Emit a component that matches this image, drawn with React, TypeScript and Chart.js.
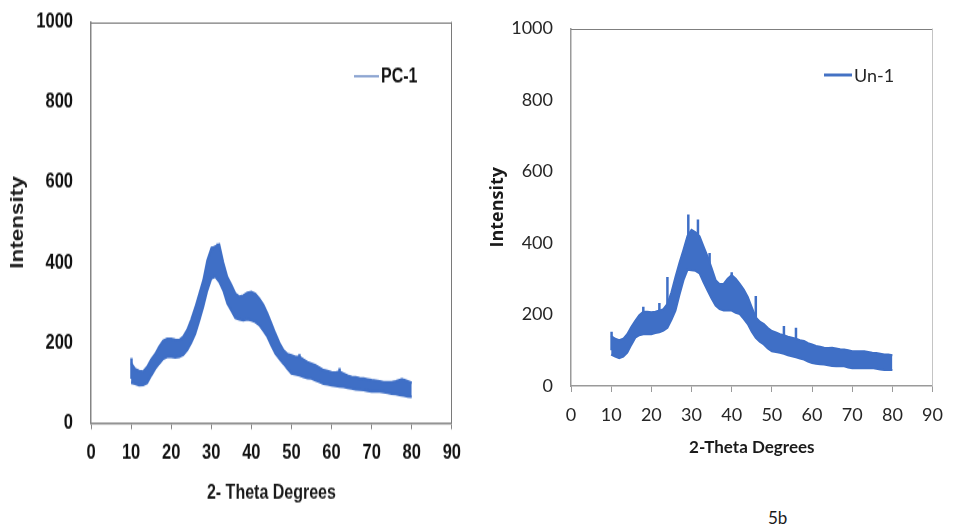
import React, { useEffect, useRef } from "react";
import { Chart, registerables } from "chart.js";

Chart.register(...registerables);

// 2-theta positions (degrees)
const thetaDeg = [
  10, 11, 12, 13, 14, 15, 16, 17, 18, 19, 20, 21, 22, 23, 24, 25, 26, 27, 28, 29,
  30, 31, 32, 33, 34, 35, 36, 37, 38, 39, 40, 41, 42, 43, 44, 45, 46, 47, 48, 49,
  50, 51, 52, 53, 54, 55, 56, 57, 58, 59, 60, 61, 62, 63, 64, 65, 66, 67, 68, 69,
  70, 71, 72, 73, 74, 75, 76, 77, 78, 79, 80,
];

// PC-1: upper and lower edge of the noisy pattern
const pcUpper = [
  150, 135, 130, 128, 140, 158, 172, 190, 205, 210, 210, 208, 207, 215, 232, 258, 288, 322, 356, 405,
  435, 440, 445, 400, 364, 345, 323, 315, 318, 325, 327, 322, 310, 295, 273, 248, 223, 200, 182, 172,
  169, 165, 165, 158, 152, 148, 144, 138, 132, 130, 127, 126, 128, 123, 118, 115, 114, 112, 111, 109,
  107, 106, 104, 102, 102, 102, 104, 107, 108, 104, 100,
];
const pcLower = [
  100, 98, 94, 95, 100, 118, 135, 148, 160, 165, 165, 163, 165, 170, 182, 200, 222, 255, 290, 330,
  360, 365, 352, 330, 298, 280, 262, 258, 256, 258, 256, 252, 244, 230, 215, 193, 173, 160, 148, 135,
  123, 121, 119, 115, 112, 111, 106, 102, 98, 96, 94, 92, 91, 90, 88, 86, 84, 83, 82, 80,
  78, 78, 78, 77, 75, 73, 72, 70, 68, 66, 65,
];
const pcSpikeX = [10.1, 30.2, 31.6, 52, 62, 77.5];
const pcSpikeTop = [162, 440, 448, 172, 137, 112];
const pcSpikeBase = [110, 380, 380, 130, 100, 80];

// Un-1: upper and lower edge of the noisy pattern
const unUpper = [
  140, 132, 128, 132, 145, 165, 182, 198, 208, 208, 206, 208, 211, 215, 230, 262, 305, 345, 381, 420,
  437, 430, 419, 390, 362, 330, 296, 285, 286, 300, 310, 300, 286, 270, 249, 220, 192, 180, 173, 162,
  154, 150, 145, 142, 138, 135, 132, 128, 126, 120, 116, 112, 110, 107, 106, 107, 105, 103, 102, 100,
  97, 97, 97, 97, 95, 93, 92, 90, 88, 88, 86,
];
const unLower = [
  88, 82, 78, 82, 93, 115, 135, 142, 145, 145, 145, 148, 150, 155, 163, 185, 211, 255, 296, 325,
  324, 322, 315, 290, 267, 245, 225, 215, 211, 212, 211, 205, 201, 188, 173, 152, 135, 124, 116, 105,
  97, 95, 93, 90, 86, 83, 80, 77, 74, 68, 64, 62, 61, 60, 58, 56, 55, 55, 55, 52,
  50, 50, 50, 50, 50, 50, 48, 46, 45, 45, 45,
];
const unSpikeX = [10.1, 18, 22, 24, 29.2, 31.6, 34.5, 40, 46, 53, 56];
const unSpikeTop = [152, 222, 232, 305, 480, 466, 372, 318, 252, 168, 163];
const unSpikeBase = [100, 160, 160, 180, 340, 340, 280, 230, 150, 100, 95];

const xTicks = [0, 10, 20, 30, 40, 50, 60, 70, 80, 90];
const yTicks = [0, 200, 400, 600, 800, 1000];

const BLUE = "#3f6fc6";

function bandDatasets(label: string, upper: number[], lower: number[], sx: number[], sTop: number[], sBase: number[]) {
  const spikes: any[] = [];
  sx.forEach((x, i) => {
    spikes.push({ x, y: sBase[i] });
    spikes.push({ x, y: sTop[i] });
    spikes.push({ x, y: null });
  });
  return [
    {
      label,
      data: thetaDeg.map((x, i) => ({ x, y: upper[i] })),
      borderColor: BLUE,
      borderWidth: 2,
      pointRadius: 0,
      fill: false,
      tension: 0,
    },
    {
      label: label + "-low",
      data: thetaDeg.map((x, i) => ({ x, y: lower[i] })),
      borderColor: BLUE,
      borderWidth: 2,
      backgroundColor: BLUE,
      pointRadius: 0,
      fill: "-1",
      tension: 0,
    },
    {
      label: label + "-spikes",
      data: spikes,
      borderColor: BLUE,
      borderWidth: 2.5,
      pointRadius: 0,
      fill: false,
      spanGaps: false,
    },
  ];
}

function decorPlugin(o: any) {
  return {
    id: "decor",
    afterDraw(chart: any) {
      const { ctx, chartArea: a } = chart;
      ctx.save();
      ctx.lineWidth = 1;
      ctx.strokeStyle = o.topColor;
      ctx.beginPath();
      ctx.moveTo(a.left, Math.round(a.top) + 0.5);
      ctx.lineTo(a.right, Math.round(a.top) + 0.5);
      ctx.stroke();
      ctx.strokeStyle = o.rightColor;
      ctx.beginPath();
      ctx.moveTo(Math.round(a.right) - 0.5, a.top);
      ctx.lineTo(Math.round(a.right) - 0.5, a.bottom);
      ctx.stroke();
      ctx.strokeStyle = o.legendLine;
      ctx.lineWidth = o.legendLineWidth;
      ctx.beginPath();
      ctx.moveTo(o.lx1, o.ly);
      ctx.lineTo(o.lx2, o.ly);
      ctx.stroke();
      ctx.fillStyle = o.legendColor;
      ctx.font = o.legendFont;
      ctx.textAlign = "left";
      ctx.textBaseline = "middle";
      ctx.fillText(chart.data.datasets[0].label, o.lx2 + 2, o.ly + 1);
      ctx.restore();
    },
  };
}

function makeConfig(p: any) {
  return {
    type: "line",
    data: { datasets: p.datasets },
    options: {
      animation: false,
      responsive: false,
      devicePixelRatio: 1,
      layout: { padding: { top: p.padTop, right: p.padRight, left: 0, bottom: 0 } },
      plugins: { legend: { display: false }, tooltip: { enabled: false } },
      scales: {
        x: {
          type: "linear",
          min: 0,
          max: 90,
          afterBuildTicks: (s: any) => {
            s.ticks = xTicks.map((v) => ({ value: v }));
          },
          afterFit: (s: any) => {
            s.height = p.xAxisHeight;
          },
          grid: { drawOnChartArea: false, drawTicks: true, tickLength: p.tickLen, color: p.axisColor },
          border: { display: true, color: p.axisColor, width: 1.5 },
          ticks: {
            color: p.tickColor,
            font: p.tickFont,
            padding: p.xTickPad,
            maxRotation: 0,
            autoSkip: false,
            callback: (v: any) => String(v),
          },
          title: { display: true, text: p.xTitle, color: "#1a1a1a", font: p.xTitleFont, padding: { top: 0, bottom: p.xTitlePadB } },
        },
        y: {
          type: "linear",
          min: 0,
          max: 1000,
          afterBuildTicks: (s: any) => {
            s.ticks = yTicks.map((v) => ({ value: v }));
          },
          afterFit: (s: any) => {
            s.width = 91;
          },
          grid: {
            drawOnChartArea: false,
            drawTicks: true,
            tickLength: 14,
            tickColor: "rgba(0,0,0,0)",
            color: p.axisColor,
          },
          border: { display: true, color: p.axisColor, width: 1.5 },
          ticks: {
            color: p.tickColor,
            font: p.tickFont,
            padding: 4,
            autoSkip: false,
            callback: (v: any) => String(v),
          },
          title: { display: true, text: "Intensity", color: "#1a1a1a", font: p.yTitleFont, padding: { top: p.yTitlePadT, bottom: 0 } },
        },
      },
    },
    plugins: [decorPlugin(p.decor)],
  };
}

function ChartCanvas({ config, width, height, cssHeight, left, top }: any) {
  const ref = useRef<HTMLCanvasElement | null>(null);
  useEffect(() => {
    if (!ref.current) return;
    const chart = new Chart(ref.current, config);
    return () => chart.destroy();
  }, []);
  return (
    <canvas
      ref={ref}
      width={width}
      height={height}
      style={{ position: "absolute", left, top, width, height: cssHeight }}
    />
  );
}

const ARIAL = '"Liberation Sans", Arial, sans-serif';
// left panel is drawn on a canvas that is stretched vertically by this factor
const LEFT_STRETCH = 1.25;
const LEFT_CSS_H = 515;
const LEFT_H = Math.round(LEFT_CSS_H / LEFT_STRETCH);

const leftConfig = makeConfig({
  datasets: bandDatasets("PC-1", pcUpper, pcLower, pcSpikeX, pcSpikeTop, pcSpikeBase),
  padTop: 17.5,
  padRight: 17,
  xAxisHeight: LEFT_H - 338.4,
  tickLen: 5,
  axisColor: "#858585",
  tickColor: "#111111",
  tickFont: { family: ARIAL, size: 16.5, weight: "bold" },
  xTickPad: 9,
  xTitle: "2- Theta Degrees",
  xTitleFont: { family: ARIAL, size: 16, weight: "bold" },
  xTitlePadB: 8,
  yTitleFont: { family: ARIAL, size: 18, weight: "bold" },
  yTitlePadT: 7,
  decor: {
    topColor: "#7a7a7a",
    rightColor: "#7a7a7a",
    legendLine: "#8ea6d2",
    legendLineWidth: 2,
    lx1: 354,
    lx2: 379,
    ly: 61,
    legendColor: "#111111",
    legendFont: "bold 16px " + ARIAL,
  },
});

const rightConfig = makeConfig({
  datasets: bandDatasets("Un-1", unUpper, unLower, unSpikeX, unSpikeTop, unSpikeBase),
  padTop: 28.5,
  padRight: 13,
  xAxisHeight: 94,
  tickLen: 6,
  axisColor: "#9a9a9a",
  tickColor: "#262626",
  tickFont: { family: "Lato, sans-serif", size: 18 },
  xTickPad: 12,
  xTitle: "2-Theta Degrees",
  xTitleFont: { family: "Lato, sans-serif", size: 17, weight: "bold" },
  xTitlePadB: 22,
  yTitleFont: { family: '"Open Sans", sans-serif', size: 18, weight: "bold" },
  yTitlePadT: 7,
  decor: {
    topColor: "#7f7f7f",
    rightColor: "#c4c4c4",
    legendLine: "#4472c4",
    legendLineWidth: 3,
    lx1: 344,
    lx2: 372,
    ly: 75,
    legendColor: "#262626",
    legendFont: "18px Lato, sans-serif",
  },
});

export default function App() {
  return (
    <div style={{ position: "absolute", left: 0, top: 0, width: 955, height: 530, background: "#ffffff", overflow: "hidden" }}>
      <ChartCanvas config={leftConfig} width={470} height={LEFT_H} cssHeight={LEFT_CSS_H} left={0} top={0} />
      <ChartCanvas config={rightConfig} width={475} height={480} cssHeight={480} left={480} top={0} />
      <div
        style={{
          position: "absolute",
          left: 768,
          top: 508,
          fontFamily: "Lato, sans-serif",
          fontSize: 17,
          color: "#1a1a1a",
          lineHeight: "20px",
        }}
      >
        5b
      </div>
    </div>
  );
}
